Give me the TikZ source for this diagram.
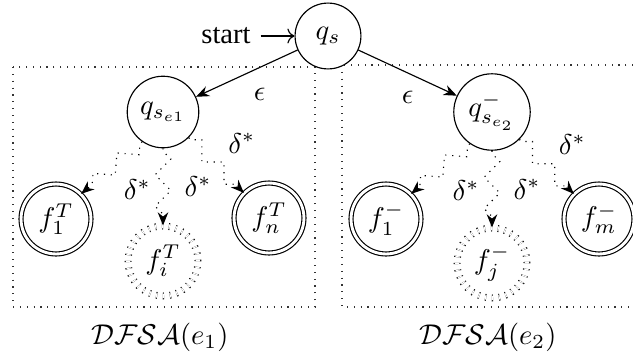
\documentclass[tikz,border=0pt]{standalone}
\usepackage{fontspec}
\setmainfont{Liberation Serif}
\usetikzlibrary{arrows.meta,decorations.pathmorphing,positioning}

\begin{document}
\begin{tikzpicture}[x=0.0123cm, y=-0.0123cm, >={Stealth[length=4.6pt,width=3.7pt]},
    state/.style={circle, draw, inner sep=1pt, minimum size=0.81cm},
    final/.style={state, double, double distance=1pt, minimum size=0.86cm},
    maybe/.style={final, dotted, double distance=1.6pt},
    zig/.style={->, dotted, decorate, decoration={zigzag, segment length=11pt, amplitude=2.75pt, pre length=1pt, post length=3.5pt}},
    box/.style={dotted, black!80}]
    \useasboundingbox (0,0) rectangle (633,360);
    % the two automata
    \draw[box] (13,67) rectangle (315,307);
    \draw[box] (342,65) rectangle (640,307);
    \node[state, fill=white] (qs) at (328,36) {$q_s$};
    \node (start) at (226,36) {start};
    \draw[->, >=To] (start) -- (qs);
    % left: e1
    \node[state, minimum size=0.88cm] (qa) at (163,112) {$q_{s_{e1}}$};
    \node[final] (f1) at (56,219) {$f^T_1$};
    \node[maybe] (fi) at (163,261) {$f^T_i$};
    \node[final] (fn) at (269,218) {$f^T_n$};
    % right: e2
    \node[state, minimum size=0.94cm] (qb) at (492,112) {$q^-_{s_{e_2}}$};
    \node[final] (g1) at (386,219) {$f^-_1$};
    \node[maybe] (gj) at (492,263) {$f^-_j$};
    \node[final] (gm) at (599,219) {$f^-_m$};
    % transitions
    \draw[->] (qs) -- node[below right=1pt, pos=0.55] {$\epsilon$} (qa);
    \draw[->] (qs) -- node[below=3pt, pos=0.5] {$\epsilon$} (qb);
    \draw[zig] (qa.-125) -- node[below right=1pt] {$\delta^*$} (f1.45);
    \draw[zig] (qa.south) -- node[right=4pt] {$\delta^*$} (fi.north);
    \draw[zig] (qa.-45) -- node[above right=1pt] {$\delta^*$} (fn.135);
    \draw[zig] (qb.-125) -- node[below right=1pt] {$\delta^*$} (g1.45);
    \draw[zig] (qb.south) -- node[right=4pt] {$\delta^*$} (gj.north);
    \draw[zig] (qb.-45) -- node[above right=1pt] {$\delta^*$} (gm.135);
    % captions
    \node (la) at (160,337) {$\mathcal{DFSA}(e_1)$};
    \node (lb) at (488,337) {$\mathcal{DFSA}(e_2)$};
\end{tikzpicture}
\end{document}
